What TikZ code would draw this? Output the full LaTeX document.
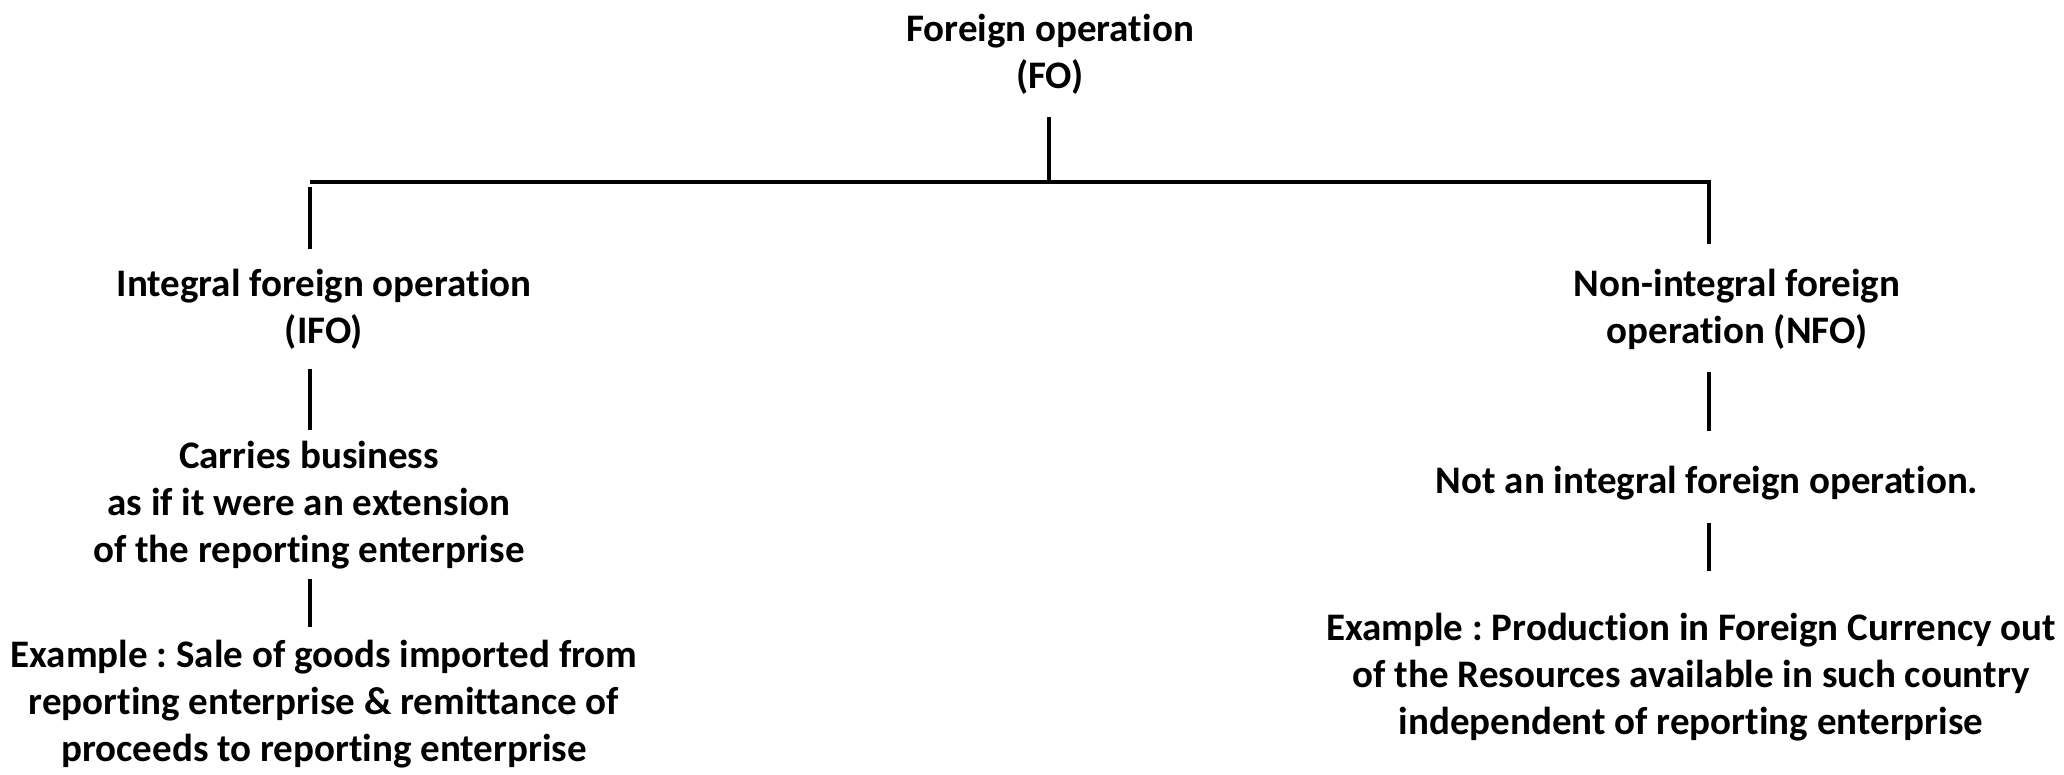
\documentclass[tikz,border=0pt]{standalone}
\usepackage{fontspec}
\setmainfont{Carlito}[Ligatures=NoCommon]
\frenchspacing
\begin{document}
\begin{tikzpicture}[x=0.5pt,y=-0.5pt,
  label text/.style={font=\bfseries\fontsize{19.5}{23.5}\selectfont, align=center, inner sep=0pt},
  link/.style={line width=2pt, line cap=butt}]
\useasboundingbox (0,0) rectangle (2064,775);

% text blocks
\node[label text] (fo)    at (1050,54)  {Foreign operation\\(FO)};
\node[label text] (ifo)   at (324,309)  {Integral foreign operation\\(IFO)};
\node[label text] (carry) at (309,505)  {Carries business\\as if it were an extension\\of the reporting enterprise};
\node[label text] (exl)   at (324,704)  {Example : Sale of goods imported from\\reporting enterprise \& remittance of\\proceeds to reporting enterprise};
\node[label text] (nfo)   at (1737,309) {Non-integral foreign\\operation (NFO)};
\node[label text] (nota)  at (1707,483) {Not an integral foreign operation.};
\node[label text] (exr)   at (1691,677) {Example : Production in Foreign Currency out\\of the Resources available in such country\\independent of reporting enterprise};

% junction points on the horizontal bar
\coordinate (jc) at (1049,182);
\coordinate (jl) at (310,182);
\coordinate (jr) at (1709,182);

% tree connectors
\draw[link, shorten <=11pt] (jc |- fo.south) -- (jc);
\draw[link] (jl) -- (jr);
\draw[link, shorten <=2.5pt, shorten >=9.5pt] (jl) -- (jl |- ifo.north);
\draw[link, shorten <=-1pt, shorten >=12pt] (jr) -- (jr |- nfo.north);
\draw[link, shorten <=9.5pt, shorten >=5.5pt] (jl |- ifo.south) -- (jl |- carry.north);
\draw[link, shorten <=5pt, shorten >=6.5pt] (jl |- carry.south) -- (jl |- exl.north);
\draw[link, shorten <=11pt, shorten >=17.5pt] (jr |- nfo.south) -- (jr |- nota.north);
\draw[link, shorten <=11.5pt, shorten >=21pt] (jr |- nota.south) -- (jr |- exr.north);
\end{tikzpicture}
\end{document}
